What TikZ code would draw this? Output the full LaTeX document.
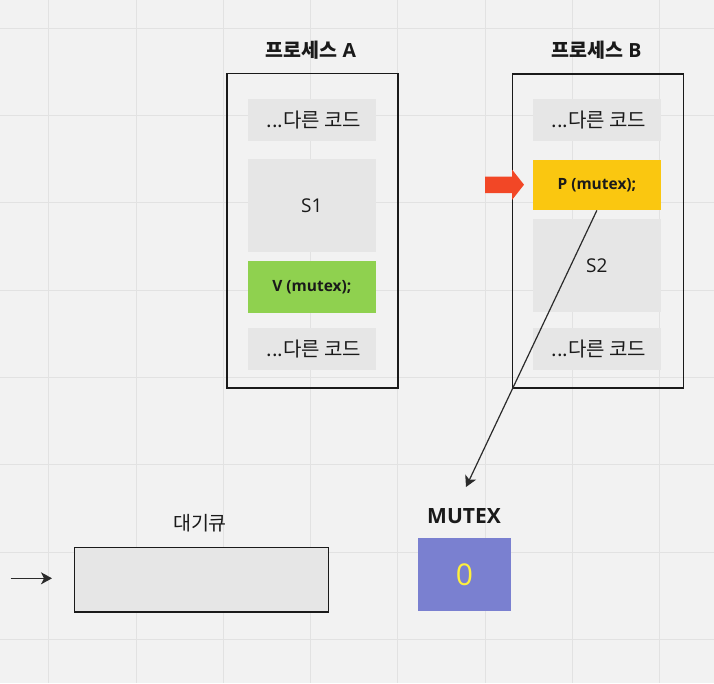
\documentclass[tikz,border=0pt]{standalone}
\usepackage{fontspec}
\setmainfont{Open Sans}
\newfontfamily\kr{Noto Sans CJK KR}
\usetikzlibrary{arrows.meta}
\definecolor{bg}{HTML}{F2F2F2}
\definecolor{gridc}{HTML}{E2E2E2}
\definecolor{boxg}{HTML}{E6E6E6}
\definecolor{ink}{HTML}{1A1A1A}
\definecolor{arrowc}{HTML}{2B2B2B}
\definecolor{greenc}{HTML}{8FD14F}
\definecolor{yellowc}{HTML}{FAC710}
\definecolor{redc}{HTML}{F24726}
\definecolor{violetc}{HTML}{7A80D0}
\definecolor{zeroc}{HTML}{FFF03C}
\tikzset{
  frame/.style={draw=ink, line width=1.4pt, fill=none, inner sep=0pt, anchor=north west},
  codebox/.style={fill=boxg, draw=none, inner sep=0pt, anchor=north west},
  codetext/.style={text=ink, font=\kr\fontsize{20}{24}\selectfont},
  stext/.style={text=ink, font=\fontsize{19}{22}\selectfont},
  optext/.style={text=ink, font=\bfseries\fontsize{15.5}{18}\selectfont},
  title/.style={text=ink, font=\bfseries\fontsize{19.5}{23}\selectfont},
  conn/.style={draw=arrowc, line width=1.2pt, -{Stealth[length=11pt,width=12pt,inset=3pt]}},
}
\begin{document}
\begin{tikzpicture}[x=1pt,y=-1pt]
\fill[bg] (0,0) rectangle (714,683);
\useasboundingbox (0,0) rectangle (714,683);
\foreach \k in {0,...,7} {
  \draw[gridc, line width=1pt] ({48.7+87.3*\k},0) -- ({48.7+87.3*\k},683);
  \draw[gridc, line width=1pt] (0,{28.3+87.3*\k}) -- (714,{28.3+87.3*\k});
}
% Process A
\node[frame, minimum width=171pt, minimum height=314.5pt] (frameA) at (226.3,72.8) {};
\node[title] (titleA) at (311,50.5) {{\kr 프로세스} A};
\node[codebox, minimum width=128.7pt, minimum height=41.7pt] (a1) at (247.3,99) {};
\node[codetext] (a1t) at ([xshift=2pt]a1.center) {...다른 코드};
\node[codebox, minimum width=128.7pt, minimum height=92.7pt] (s1) at (247.3,159) {};
\node[stext] (s1t) at (s1.center) {S1};
\node[codebox, fill=greenc, minimum width=128.7pt, minimum height=51.3pt] (vbox) at (247.3,261) {};
\node[optext] (vt) at (vbox.center) {V (mutex);};
\node[codebox, minimum width=128.7pt, minimum height=42.3pt] (a4) at (247.3,327.7) {};
\node[codetext] (a4t) at ([xshift=2pt]a4.center) {...다른 코드};
% Process B
\node[frame, minimum width=171pt, minimum height=314pt] (frameB) at (511.7,73.3) {};
\node[title] (titleB) at (596.5,50.5) {{\kr 프로세스} B};
\node[codebox, minimum width=128.7pt, minimum height=41.7pt] (b1) at (532.3,99) {};
\node[codetext] (b1t) at ([xshift=2pt]b1.center) {...다른 코드};
\node[codebox, fill=yellowc, minimum width=128.7pt, minimum height=50.7pt] (pbox) at (532.3,159.3) {};
\node[optext] (pt) at (pbox.center) {P (mutex);};
\node[codebox, minimum width=128.7pt, minimum height=92.7pt] (s2) at (532.3,219) {};
\node[stext] (s2t) at (s2.center) {S2};
\node[codebox, minimum width=128.7pt, minimum height=42.3pt] (b4) at (532.3,327.7) {};
\node[codetext] (b4t) at ([xshift=2pt]b4.center) {...다른 코드};
% red pointer arrow
\fill[redc] (485,176.5) -- (512,176.5) -- (512,169.5) -- (524,184.7) -- (512,200) -- (512,193) -- (485,193) -- cycle;
% queue
\node[draw=ink, line width=1.4pt, fill=boxg, minimum width=254pt, minimum height=64.5pt, anchor=north west, inner sep=0pt] (queue) at (74,546.8) {};
\node[text=ink, font=\kr\fontsize{19.5}{23}\selectfont] (qlabel) at (200,523.5) {대기큐};
\coordinate (qin0) at (10.7,578.3);
\coordinate (qin1) at (52,578.3);
\draw[conn] (qin0) -- (qin1);
% mutex
\node[title, font=\bfseries\fontsize{21}{25}\selectfont] (mlabel) at (464,516.5) {MUTEX};
\node[fill=violetc, minimum width=92.5pt, minimum height=73.3pt, anchor=north west, inner sep=0pt] (mbox) at (418,537.7) {};
\node[text=zeroc, font=\fontsize{30}{34}\selectfont] (mval) at (mbox.center) {0};
\coordinate (mtip) at (466,487);
\draw[conn] (pbox.south) -- (mtip);
\end{tikzpicture}
\end{document}
